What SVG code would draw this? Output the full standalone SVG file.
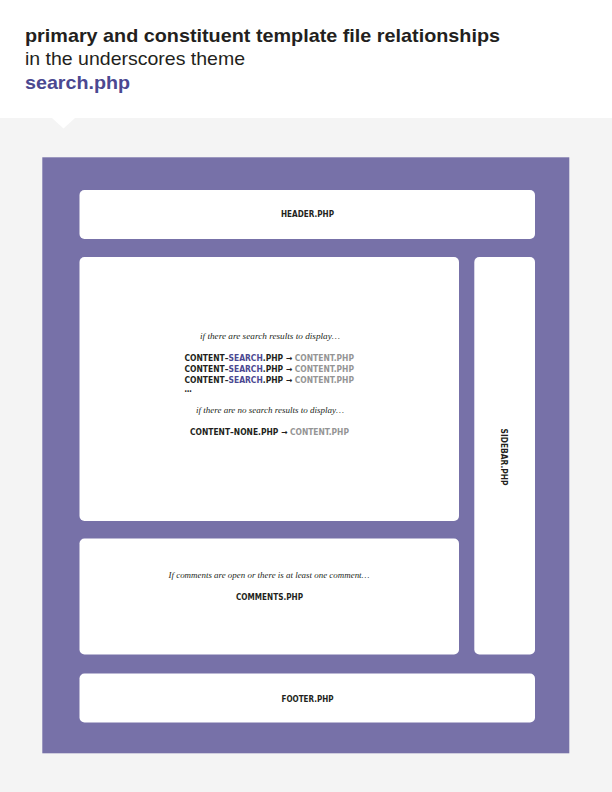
<svg xmlns="http://www.w3.org/2000/svg" width="612" height="792" viewBox="0 0 612 792">
<style>
.title{font-family:"Liberation Sans",Arial,sans-serif;font-size:19px;fill:#231f20}
.box{fill:#ffffff}
.lbl{font-family:"Liberation Sans Narrow","DejaVu Sans Condensed","Liberation Sans",sans-serif;font-weight:bold;font-size:8px;fill:#231f20}
.it{font-family:"Liberation Serif","Times New Roman",serif;font-style:italic;font-size:8px;fill:#231f20}
.pu{fill:#4b4891}
.gr{fill:#959595}
</style>
<rect x="0" y="0" width="612" height="792" fill="#ffffff"/>
<rect x="0" y="118" width="612" height="674" fill="#f4f4f4"/>
<polygon points="52,118 75,118 63.5,128.5" fill="#ffffff"/>
<text class="title" x="25" y="41.5" font-weight="bold" textLength="475" lengthAdjust="spacingAndGlyphs">primary and constituent template file relationships</text>
<text class="title" x="25" y="65" textLength="220" lengthAdjust="spacingAndGlyphs">in the underscores theme</text>
<text class="title" x="25" y="88.5" font-weight="bold" fill="#4b4891" style="fill:#4b4891" textLength="105" lengthAdjust="spacingAndGlyphs">search.php</text>
<rect x="42.3" y="157.3" width="527" height="596" fill="#7771a8"/>
<g id="header">
<rect class="box" x="79.5" y="190" width="455.5" height="49" rx="5"/>
<text class="lbl" x="307.5" y="217.3" text-anchor="middle" textLength="53" lengthAdjust="spacingAndGlyphs">HEADER.PHP</text>
</g>
<g id="content">
<rect class="box" x="79.5" y="257" width="379.5" height="264" rx="5"/>
<text class="it" x="270" y="338.5" text-anchor="middle" textLength="140" lengthAdjust="spacingAndGlyphs">if there are search results to display…</text>
<text class="lbl" x="184.5" y="360.5" textLength="169.5" lengthAdjust="spacingAndGlyphs">CONTENT–<tspan class="pu">SEARCH</tspan>.PHP → <tspan class="gr">CONTENT.PHP</tspan></text>
<text class="lbl" x="184.5" y="371.5" textLength="169.5" lengthAdjust="spacingAndGlyphs">CONTENT–<tspan class="pu">SEARCH</tspan>.PHP → <tspan class="gr">CONTENT.PHP</tspan></text>
<text class="lbl" x="184.5" y="382.5" textLength="169.5" lengthAdjust="spacingAndGlyphs">CONTENT–<tspan class="pu">SEARCH</tspan>.PHP → <tspan class="gr">CONTENT.PHP</tspan></text>
<text class="lbl" x="184.5" y="392">…</text>
<text class="it" x="270" y="413" text-anchor="middle" textLength="148" lengthAdjust="spacingAndGlyphs">if there are no search results to display…</text>
<text class="lbl" x="190" y="435.3" textLength="159" lengthAdjust="spacingAndGlyphs">CONTENT–NONE.PHP → <tspan class="gr">CONTENT.PHP</tspan></text>
</g>
<g id="comments">
<rect class="box" x="79.5" y="538.5" width="379.5" height="116" rx="5"/>
<text class="it" x="269" y="578" text-anchor="middle" textLength="201" lengthAdjust="spacingAndGlyphs">If comments are open or there is at least one comment…</text>
<text class="lbl" x="269.5" y="599.5" text-anchor="middle" textLength="67" lengthAdjust="spacingAndGlyphs">COMMENTS.PHP</text>
</g>
<g id="sidebar">
<rect class="box" x="474.3" y="257" width="60.7" height="397.5" rx="5"/>
<text class="lbl" transform="translate(500.5,457) rotate(90)" x="0" y="0" text-anchor="middle" textLength="57" lengthAdjust="spacingAndGlyphs">SIDEBAR.PHP</text>
</g>
<g id="footer">
<rect class="box" x="79.5" y="673.5" width="455.5" height="49" rx="5"/>
<text class="lbl" x="307.5" y="702" text-anchor="middle" textLength="52" lengthAdjust="spacingAndGlyphs">FOOTER.PHP</text>
</g>
<g id="connectors"></g>
</svg>
